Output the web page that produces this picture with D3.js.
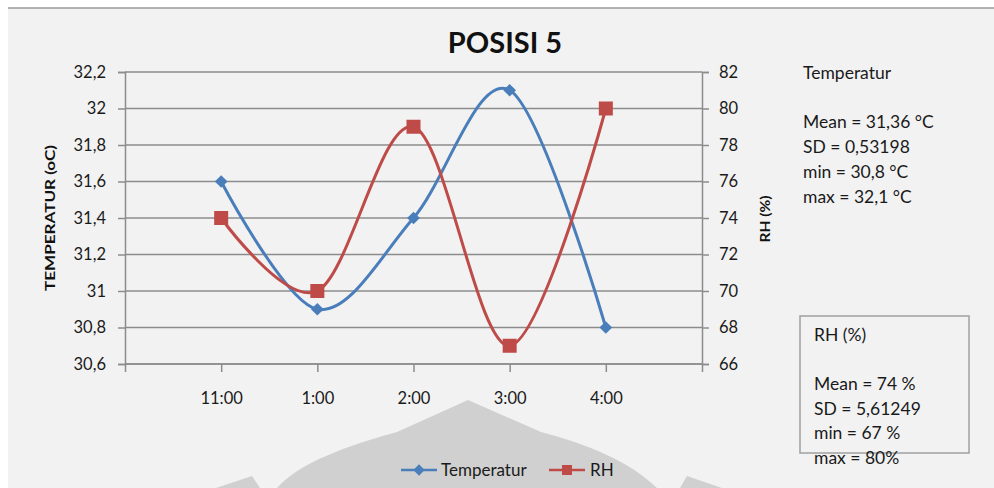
<!DOCTYPE html>
<html><head><meta charset="utf-8">
<script src="https://cdn.jsdelivr.net/npm/d3@7"></script>
<style>
html,body{margin:0;padding:0;background:#fff;}
svg{display:block;font-family:Lato,"Open Sans",sans-serif;}
</style></head>
<body>
<svg id="c" width="994" height="488"></svg>
<script>
const categories = ["11:00","1:00","2:00","3:00","4:00"];
const temperatur = [31.6, 30.9, 31.4, 32.1, 30.8];
const rh = [74, 70, 79, 67, 80];
const leftTicks = [30.6,30.8,31,31.2,31.4,31.6,31.8,32,32.2];
const rightTicks = [66,68,70,72,74,76,78,80,82];
const tempStats = ["Temperatur","","Mean = 31,36 °C","SD  = 0,53198","min = 30,8 °C","max = 32,1 °C"];
const rhStats = ["RH (%)","","Mean = 74 %","SD = 5,61249","min = 67 %","max = 80%"];

const svg = d3.select("#c");
const W = 994, H = 488;
const fmt = v => String(+v.toFixed(1)).replace(".", ",");
const FS = "16.5px";
const FS2 = "17.5px";

// background
svg.append("rect").attr("x",0).attr("y",0).attr("width",W).attr("height",H).attr("fill","#fff");
svg.append("rect").attr("x",8).attr("y",8).attr("width",W-8).attr("height",H-8).attr("fill","#f2f2f2");
svg.append("line").attr("x1",8).attr("x2",W).attr("y1",8).attr("y2",8).attr("stroke","#9a9a9a").attr("stroke-width",1.5);

// watermark shape (decorative)
const wm = svg.append("g").attr("fill","#d0d0d0");
wm.append("path").attr("d","M468,400 L397,432 C350,445 300,462 277,488 L657,488 C630,462 590,445 541,432 Z");
wm.append("path").attr("d","M252,476 L216,488 L260,488 Z");
wm.append("path").attr("d","M687,476 L722,488 L680,488 Z");

const L = 125, R = 702, T = 72, B = 364;
const x = d3.scaleLinear().domain([-1, categories.length]).range([L, R]);
const y = d3.scaleLinear().domain([30.6, 32.2]).range([B, T]);
const y2 = d3.scaleLinear().domain([66, 82]).range([B, T]);
const grid = "#8c8c8c";

// gridlines
svg.append("g").selectAll("line").data(leftTicks).join("line")
  .attr("x1",L).attr("x2",R).attr("y1",d=>y(d)).attr("y2",d=>y(d))
  .attr("stroke",grid).attr("stroke-width",1.5);

// left axis
const gl = svg.append("g").attr("transform",`translate(${L},0)`)
  .call(d3.axisLeft(y).tickValues(leftTicks).tickFormat(fmt).tickSize(7).tickPadding(12));
// right axis
const gr = svg.append("g").attr("transform",`translate(${R},0)`)
  .call(d3.axisRight(y2).tickValues(rightTicks).tickSize(7).tickPadding(10));
// bottom axis
const xt = d3.range(-1, categories.length+1);
const gb = svg.append("g").attr("transform",`translate(0,${B})`)
  .call(d3.axisBottom(x).tickValues(xt).tickFormat(d => categories[d] || "").tickSize(8).tickPadding(20));
[gl,gr,gb].forEach(g=>{
  g.select(".domain").attr("stroke",grid).attr("stroke-width",1.5);
  g.selectAll(".tick line").attr("stroke",grid).attr("stroke-width",1.5);
  g.selectAll("text").attr("fill","#1a1a1a").style("font-size",FS).style("font-family","Lato, sans-serif");
});
gb.select(".domain").attr("d",`M${L},0H${R}`);

// lines
const blue = "#4a7ebb", red = "#be4b48";
const lineT = d3.line().x((d,i)=>x(i)).y(d=>y(d)).curve(d3.curveCardinal.tension(0));
const lineR = d3.line().x((d,i)=>x(i)).y(d=>y2(d)).curve(d3.curveCardinal.tension(0));
svg.append("path").datum(temperatur).attr("d",lineT).attr("fill","none").attr("stroke",blue).attr("stroke-width",3);
svg.append("path").datum(rh).attr("d",lineR).attr("fill","none").attr("stroke",red).attr("stroke-width",3);
svg.append("g").selectAll("rect").data(temperatur).join("rect")
  .attr("x",-4.5).attr("y",-4.5).attr("width",9).attr("height",9).attr("fill",blue)
  .attr("transform",(d,i)=>`translate(${x(i)},${y(d)}) rotate(45)`);
svg.append("g").selectAll("rect").data(rh).join("rect")
  .attr("x",(d,i)=>x(i)-7).attr("y",d=>y2(d)-7).attr("width",14).attr("height",14).attr("fill",red);

// title
svg.append("text").attr("x",505).attr("y",53).attr("text-anchor","middle")
  .style("font-size","29px").style("font-weight","bold").attr("fill","#111").text("POSISI 5");

// axis titles
svg.append("text").attr("transform","translate(55,218) rotate(-90)").attr("text-anchor","middle")
  .style("font-size","13px").style("font-weight","bold").attr("fill","#111")
  .attr("textLength",146).attr("lengthAdjust","spacingAndGlyphs").text("TEMPERATUR  (oC)");
svg.append("text").attr("transform","translate(770,219) rotate(-90)").attr("text-anchor","middle")
  .style("font-size","13px").style("font-weight","bold").attr("fill","#111")
  .attr("textLength",47).attr("lengthAdjust","spacingAndGlyphs").text("RH (%)");

// stats text
svg.append("g").selectAll("text").data(tempStats).join("text")
  .attr("x",803).attr("y",(d,i)=>79+i*24.7).style("font-size",FS2).attr("fill","#1a1a1a").text(d=>d);
svg.append("rect").attr("x",800).attr("y",316).attr("width",169).attr("height",137)
  .attr("fill","none").attr("stroke","#a0a0a0").attr("stroke-width",1.5);
svg.append("g").selectAll("text").data(rhStats).join("text")
  .attr("x",814).attr("y",(d,i)=>341+i*24.6).style("font-size",FS2).attr("fill","#1a1a1a").text(d=>d);

// legend
const lg = svg.append("g");
lg.append("line").attr("x1",401).attr("x2",437).attr("y1",470).attr("y2",470).attr("stroke",blue).attr("stroke-width",2.5);
lg.append("rect").attr("x",-4).attr("y",-4).attr("width",8).attr("height",8).attr("transform","translate(419,470) rotate(45)").attr("fill",blue);
lg.append("text").attr("x",441).attr("y",476).style("font-size","17px").attr("fill","#1a1a1a").text("Temperatur");
lg.append("line").attr("x1",549).attr("x2",585).attr("y1",470).attr("y2",470).attr("stroke",red).attr("stroke-width",2.5);
lg.append("rect").attr("x",562).attr("y",465).attr("width",10).attr("height",10).attr("fill",red);
lg.append("text").attr("x",590).attr("y",476).style("font-size","17px").attr("fill","#1a1a1a").text("RH");
</script>
</body></html>
